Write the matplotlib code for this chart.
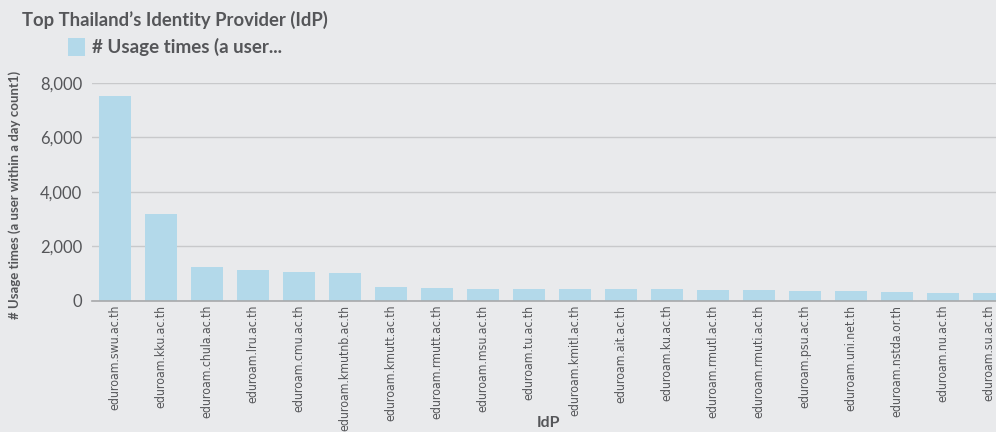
import matplotlib
matplotlib.use("Agg")
import matplotlib.pyplot as plt
from matplotlib.patches import Rectangle
from matplotlib import font_manager

categories = ["eduroam.swu.ac.th", "eduroam.kku.ac.th", "eduroam.chula.ac.th", "eduroam.lru.ac.th",
              "eduroam.cmu.ac.th", "eduroam.kmutnb.ac.th", "eduroam.kmutt.ac.th", "eduroam.rmutt.ac.th",
              "eduroam.msu.ac.th", "eduroam.tu.ac.th", "eduroam.kmitl.ac.th", "eduroam.ait.ac.th",
              "eduroam.ku.ac.th", "eduroam.rmutl.ac.th", "eduroam.rmuti.ac.th", "eduroam.psu.ac.th",
              "eduroam.uni.net.th", "eduroam.nstda.or.th", "eduroam.nu.ac.th", "eduroam.su.ac.th"]
values = [7510, 3180, 1250, 1140, 1070, 1000, 520, 480, 445, 445,
          445, 445, 445, 405, 405, 370, 370, 330, 295, 295]
yticks = [0, 2000, 4000, 6000, 8000]
ytick_labels = ["0", "2,000", "4,000", "6,000", "8,000"]

bg = "#E9EAEC"
bar_color = "#B3D9EA"
text_color = "#555659"

names = {f.name for f in font_manager.fontManager.ttflist}
main_font = "Lato" if "Lato" in names else "DejaVu Sans"
cond = [f for f in font_manager.fontManager.ttflist
        if ("Condensed" in f.fname or "Narrow" in f.fname) and "Bold" not in f.fname
        and "Oblique" not in f.fname and "Italic" not in f.fname]
if cond:
    tick_fp = font_manager.FontProperties(fname=cond[0].fname, size=8.8)
else:
    tick_fp = font_manager.FontProperties(family="DejaVu Sans", size=7.6)

fig = plt.figure(figsize=(9.96, 4.32), dpi=100, facecolor=bg)
ax = fig.add_axes([92/996, 1 - 300.7/432, 920/996, (300.7 - 82.7)/432])
ax.set_facecolor(bg)

x = list(range(len(categories)))
ax.bar(x, values, width=0.7, color=bar_color, zorder=2)
ax.set_xlim(-0.5, len(categories) - 0.5)
ax.set_ylim(0, 8000)
ax.set_yticks(yticks)
ax.set_yticklabels(ytick_labels, fontsize=12, color=text_color, family=main_font)
ax.set_xticks(x)
ax.set_xticklabels(categories, rotation=90, color=text_color, fontproperties=tick_fp)
ax.tick_params(axis="y", length=0, pad=7)
ax.tick_params(axis="x", length=0, pad=3)
ax.grid(axis="y", color="#C8C9CB", linewidth=1.0, zorder=0)
for s in ["top", "right", "left"]:
    ax.spines[s].set_visible(False)
ax.spines["bottom"].set_color("#A8A9AB")
ax.spines["bottom"].set_linewidth(1.2)
ax.spines["bottom"].set_zorder(3)

fig.text(22/996, 1 - 20/432, "Top Thailand\u2019s Identity Provider (IdP)", fontsize=13.3,
         fontweight="bold", color=text_color, family=main_font, va="center", ha="left")
fig.patches.append(Rectangle((68/996, 1 - 56/432), 17/996, 18/432, transform=fig.transFigure,
                             facecolor=bar_color, edgecolor="none"))
fig.text(92/996, 1 - 47/432, "# Usage times (a user...", fontsize=13.5, fontweight="bold",
         color=text_color, family=main_font, va="center", ha="left")
fig.text(15/996, 1 - 195/432, "# Usage times (a user within a day count1)", fontsize=9.5,
         fontweight="bold", color=text_color, family=main_font, rotation=90, va="center", ha="center")
fig.text(548/996, 1 - 423/432, "IdP", fontsize=11.5, fontweight="bold", color=text_color,
         family=main_font, va="center", ha="center")

fig.savefig("out.png", dpi=100, facecolor=bg)
